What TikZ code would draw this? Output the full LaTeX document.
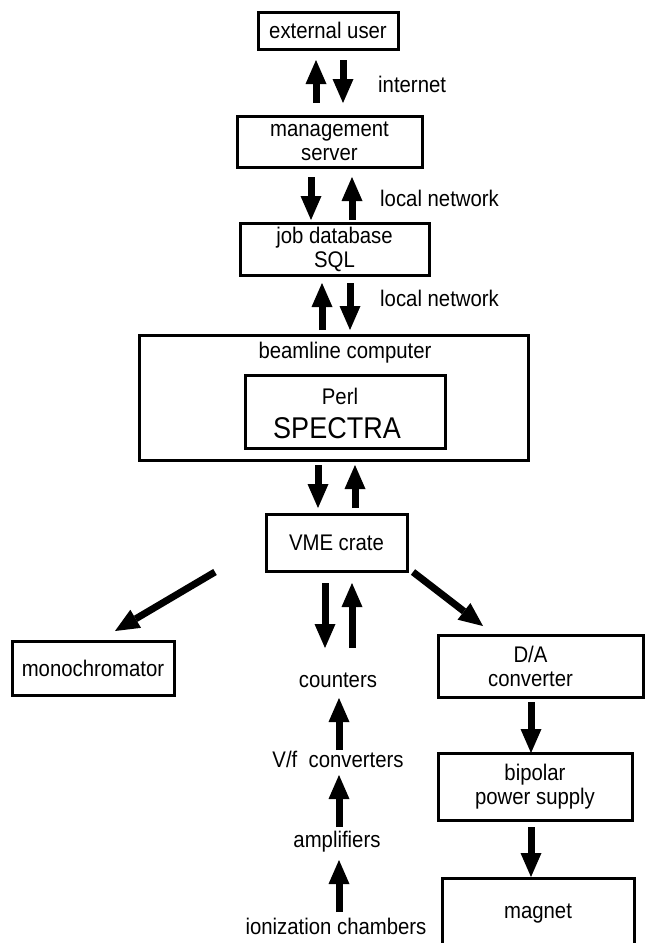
\documentclass[tikz,border=0pt]{standalone}
\usepackage{fontspec}
\setmainfont{Liberation Sans}[FakeStretch=0.9]
\usetikzlibrary{arrows.meta}
\newcommand\fsz{\fontsize{22.6pt}{24pt}\selectfont}
\newcommand\fbig{\fontsize{30pt}{32pt}\selectfont}
\begin{document}
\begin{tikzpicture}[x=1pt,y=-1pt,
  box/.style={draw, line width=3pt, inner sep=0pt, align=center, font=\fsz},
  lbl/.style={inner sep=0pt, font=\fsz},
  bigarrow/.style={line width=7pt, -{Triangle[length=24pt,width=21pt,line width=0pt]}}]
\useasboundingbox (0,0) rectangle (646,943);
\clip (0,0) rectangle (646,943);
% boxes
\node[box, minimum width=140, minimum height=37] (ext) at (328,30.5) {external user};
\node[box, minimum width=185, minimum height=51] (mgmt) at (329.5,141.5) {management\\server};
\node[box, minimum width=189, minimum height=52] (job) at (334.5,249) {job database\\SQL};
\node[box, minimum width=389, minimum height=125] (beam) at (333.5,397.5) {};
\node[lbl] (beamtxt) at (345,353) {beamline computer};
\node[box, minimum width=200, minimum height=73] (perl) at (345,411.5) {};
\node[lbl] (perltxt) at (340,396) {Perl};
\node[lbl, font=\fbig] (spectra) at (337,428) {SPECTRA};
\node[box, minimum width=141, minimum height=57] (vme) at (336.5,542.5) {VME crate};
\node[box, minimum width=162, minimum height=54] (mono) at (93,668) {monochromator};
\node[box, minimum width=205, minimum height=62] (da) at (540.5,666) {D/A\hspace*{20pt}\\converter\hspace*{20pt}};
\node[box, minimum width=194, minimum height=67] (bps) at (535,786.5) {bipolar\\power supply};
\node[box, minimum width=192, minimum height=72] (mag) at (538,914) {magnet};
% plain labels
\node[lbl, anchor=west] (inet) at (378,84) {internet};
\node[lbl, anchor=west] (ln1) at (380,198) {local network};
\node[lbl, anchor=west] (ln2) at (380,298) {local network};
\node[lbl] (cnt) at (338,680) {counters};
\node[lbl] (vf) at (338,759) {V/f\ \ converters};
\node[lbl] (amp) at (337,842) {amplifiers};
\node[lbl] (ion) at (336,926) {ionization chambers};
% arrows
\draw[bigarrow] (316,103) -- (316,60);
\draw[bigarrow] (343,60) -- (343,103);
\draw[bigarrow] (311,177) -- (311,220);
\draw[bigarrow] (352,220) -- (352,177);
\draw[bigarrow] (322,330) -- (322,283);
\draw[bigarrow] (350,283) -- (350,330);
\draw[bigarrow] (318,465) -- (318,508);
\draw[bigarrow] (355,508) -- (355,465);
\draw[bigarrow] (215,572) -- (115,631);
\draw[bigarrow] (413,572) -- (483,626);
\draw[bigarrow] (325,583) -- (325,648);
\draw[bigarrow] (352,648) -- (352,583);
\draw[bigarrow] (339,750) -- (339,698);
\draw[bigarrow] (339,827) -- (339,775);
\draw[bigarrow] (339,912) -- (339,860);
\draw[bigarrow] (531,702) -- (531,753);
\draw[bigarrow] (531,827) -- (531,877);
\end{tikzpicture}
\end{document}
